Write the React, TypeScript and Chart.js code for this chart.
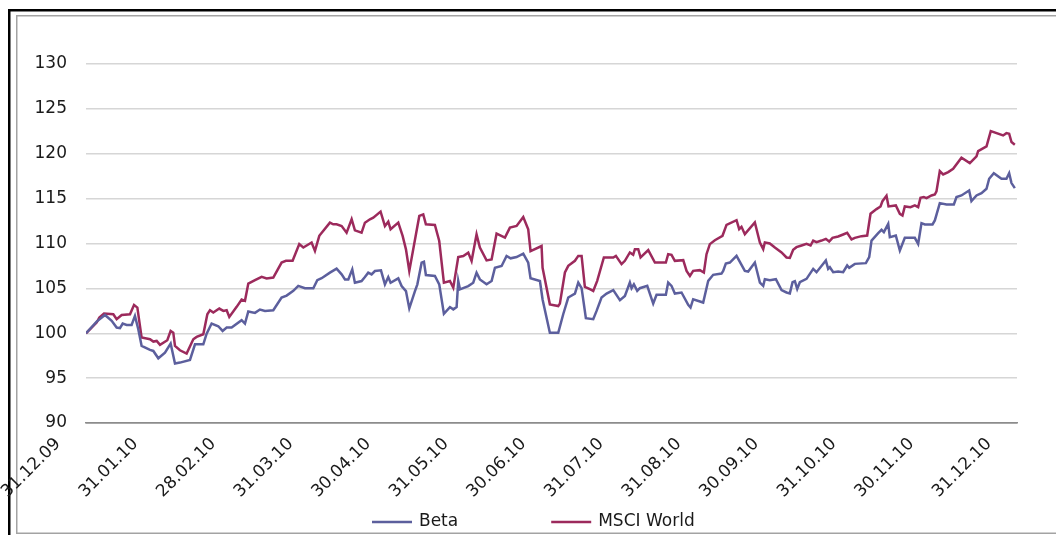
import React, { useEffect, useRef } from 'react';
import { Chart, registerables } from 'chart.js';

Chart.register(...registerables);

// X axis: months since 31.12.09 (labels at each month end)
const xTickLabels = [
  '31.12.09', '31.01.10', '28.02.10', '31.03.10', '30.04.10', '31.05.10', '30.06.10',
  '31.07.10', '31.08.10', '30.09.10', '31.10.10', '30.11.10', '31.12.10',
];

const seriesNames = ['Beta', 'MSCI World'];
const seriesColors = ['#5c5f9d', '#9c2a5c'];

const betaMonths = [
  0, 0.137, 0.245, 0.331, 0.395, 0.438, 0.473, 0.524, 0.588, 0.631, 0.674, 0.717, 0.825, 0.868, 0.932,
  1.018, 1.091, 1.147, 1.211, 1.34, 1.405, 1.512, 1.555, 1.619, 1.705, 1.761, 1.813, 1.877,
  2.006, 2.049, 2.092, 2.178, 2.242, 2.307, 2.414, 2.521, 2.586, 2.672, 2.736, 2.822, 2.93, 2.981,
  3.037, 3.144, 3.23, 3.295, 3.338, 3.381, 3.432, 3.466, 3.552, 3.595, 3.638, 3.681, 3.724, 3.802,
  3.853, 3.896, 3.926, 4.025, 4.068, 4.124, 4.167, 4.24, 4.271, 4.326, 4.356, 4.381, 4.497, 4.553,
  4.613, 4.691, 4.734, 4.777, 4.798, 4.82, 4.927, 4.991, 5.034, 5.077, 5.163, 5.228, 5.271, 5.357,
  5.421, 5.473, 5.55, 5.636, 5.7, 5.73, 5.851, 5.885, 5.979, 6.087, 6.151, 6.216, 6.302, 6.345,
  6.388, 6.443, 6.538, 6.581, 6.645, 6.71, 6.796, 6.882, 6.946, 7.01, 7.032, 7.062, 7.105, 7.139,
  7.234, 7.311, 7.354, 7.474, 7.504, 7.547, 7.59, 7.676, 7.762, 7.792, 7.826, 7.955, 8.02, 8.084,
  8.191, 8.213, 8.247, 8.299, 8.385, 8.492, 8.535, 8.621, 8.686, 8.729, 8.75, 8.814, 8.892, 8.965,
  9.029, 9.072, 9.107, 9.137, 9.167, 9.201, 9.287, 9.373, 9.416, 9.536, 9.566, 9.588, 9.631, 9.695,
  9.759, 9.811, 9.837, 9.91, 10.052, 10.095, 10.125, 10.211, 10.254, 10.284, 10.34, 10.361, 10.438,
  10.49, 10.554, 10.683, 10.726, 10.769, 10.812, 10.911, 10.941, 11.005, 11.091, 11.186, 11.22,
  11.284, 11.383, 11.413, 11.478, 11.542, 11.607, 11.641, 11.701, 11.8, 11.864, 11.899, 11.929, 11.972,
];
const betaValues = [
  100.0, 101.3, 102.04, 101.38, 100.63, 100.56, 101.08, 100.93, 100.93, 101.93, 100.45, 98.59, 98.14, 98.03, 97.21,
  97.84, 98.85, 96.62, 96.73, 97.03, 98.77, 98.77, 99.96, 101.08, 100.78, 100.26, 100.63, 100.63,
  101.45, 101.08, 102.42, 102.27, 102.64, 102.49, 102.57, 103.98, 104.2, 104.72, 105.28, 105.02, 105.02, 105.91,
  106.13, 106.75, 107.19, 106.56, 106.0, 106.0, 107.12, 105.63, 105.82, 106.26, 106.75, 106.56, 106.93, 107.01,
  105.45, 106.26, 105.63, 106.12, 105.26, 104.7, 102.77, 104.7, 105.45, 107.86, 107.97, 106.49, 106.38, 105.45,
  102.17, 102.92, 102.66, 102.92, 105.82, 104.89, 105.26, 105.63, 106.75, 106.0, 105.45, 105.82, 107.3, 107.49,
  108.61, 108.35, 108.49, 108.87, 107.86, 106.12, 105.82, 103.77, 100.06, 100.06, 102.12, 103.98, 104.42, 105.65,
  105.02, 101.67, 101.56, 102.49, 103.98, 104.42, 104.8, 103.68, 104.16, 105.65, 105.02, 105.46, 104.72, 105.02,
  105.28, 103.31, 104.28, 104.28, 105.65, 105.28, 104.42, 104.54, 103.16, 102.86, 103.79, 103.42, 105.84, 106.51,
  106.65, 106.95, 107.77, 107.88, 108.62, 106.95, 106.88, 107.88, 105.65, 105.28, 106.02, 105.91, 106.02, 104.8,
  104.54, 104.44, 105.69, 105.8, 104.94, 105.69, 106.06, 107.17, 106.8, 108.1, 107.17, 107.36, 106.8, 106.88,
  106.8, 107.55, 107.29, 107.73, 107.81, 108.48, 110.33, 111.15, 111.52, 111.26, 112.19, 110.71, 110.89,
  109.22, 110.63, 110.63, 109.96, 112.27, 112.12, 112.12, 112.57, 114.5, 114.35, 114.35, 115.17,
  115.35, 115.91, 114.72, 115.35, 115.61, 116.1, 117.21, 117.84, 117.21, 117.21, 117.84, 116.73, 116.17,
];

const msciMonths = [
  0, 0.137, 0.172, 0.232, 0.352, 0.395, 0.46, 0.567, 0.619, 0.662, 0.717, 0.825, 0.868, 0.911, 0.954,
  1.048, 1.091, 1.125, 1.147, 1.211, 1.297, 1.383, 1.426, 1.512, 1.564, 1.598, 1.641, 1.718, 1.77,
  1.813, 1.847, 1.942, 2.006, 2.049, 2.092, 2.178, 2.264, 2.328, 2.414, 2.521, 2.577, 2.663, 2.749,
  2.801, 2.908, 2.951, 3.007, 3.144, 3.187, 3.23, 3.295, 3.359, 3.424, 3.466, 3.552, 3.595, 3.66,
  3.703, 3.797, 3.853, 3.896, 3.926, 4.025, 4.081, 4.124, 4.167, 4.253, 4.296, 4.347, 4.381, 4.497,
  4.553, 4.613, 4.691, 4.734, 4.798, 4.863, 4.927, 4.97, 5.034, 5.077, 5.163, 5.228, 5.292, 5.4,
  5.464, 5.55, 5.636, 5.7, 5.73, 5.872, 5.885, 5.979, 6.087, 6.108, 6.173, 6.216, 6.302, 6.345, 6.388,
  6.43, 6.495, 6.538, 6.589, 6.675, 6.796, 6.83, 6.903, 6.946, 7.01, 7.053, 7.075, 7.118, 7.148,
  7.247, 7.333, 7.397, 7.474, 7.504, 7.547, 7.59, 7.698, 7.741, 7.784, 7.826, 7.912, 7.964, 7.998,
  8.041, 8.106, 8.204, 8.256, 8.385, 8.419, 8.449, 8.492, 8.621, 8.686, 8.729, 8.75, 8.814, 8.879,
  8.965, 9.029, 9.072, 9.115, 9.158, 9.223, 9.287, 9.339, 9.373, 9.416, 9.481, 9.536, 9.579, 9.622,
  9.695, 9.759, 9.811, 9.867, 9.91, 9.996, 10.069, 10.112, 10.189, 10.241, 10.266, 10.318, 10.344,
  10.438, 10.49, 10.524, 10.554, 10.627, 10.683, 10.726, 10.756, 10.799, 10.834, 10.898, 10.941,
  10.962, 11.005, 11.048, 11.113, 11.177, 11.284, 11.392, 11.478, 11.499, 11.607, 11.662, 11.821,
  11.864, 11.899, 11.929, 11.972,
];
const msciValues = [
  100.0, 101.19, 101.75, 102.19, 102.12, 101.56, 102.04, 102.12, 103.16, 102.86, 99.52, 99.33, 99.07, 99.14, 98.7,
  99.22, 100.26, 100.07, 98.59, 98.1, 97.73, 99.33, 99.59, 99.89, 102.12, 102.57, 102.31, 102.75, 102.49,
  102.57, 101.82, 102.94, 103.75, 103.61, 105.54, 105.91, 106.28, 106.1, 106.21, 107.88, 108.07, 108.07, 109.93,
  109.55, 110.11, 109.18, 110.86, 112.32, 112.14, 112.14, 111.95, 111.21, 112.7, 111.47, 111.21, 112.32, 112.7,
  112.88, 113.55, 111.95, 112.43, 111.58, 112.32, 110.84, 109.35, 106.93, 111.02, 113.07, 113.25, 112.14, 112.06,
  110.28, 105.63, 105.82, 105.07, 108.49, 108.61, 108.98, 108.05, 111.02, 109.54, 108.12, 108.23, 111.1, 110.65,
  111.77, 111.95, 112.96, 111.58, 109.16, 109.72, 107.3, 103.22, 103.03, 103.3, 106.77, 107.51, 108.07, 108.62, 108.62,
  105.17, 104.91, 104.72, 105.84, 108.44, 108.44, 108.62, 107.7, 108.07, 109.0, 108.74, 109.37, 109.37, 108.44,
  109.26, 107.88, 107.88, 107.88, 108.81, 108.74, 108.07, 108.14, 106.95, 106.39, 106.95, 107.03, 106.77, 108.81,
  109.93, 110.37, 110.86, 112.08, 112.6, 111.6, 111.86, 111.04, 112.34, 110.11, 109.37, 110.11, 110.0, 109.55,
  109.0, 108.44, 108.4, 109.29, 109.59, 109.78, 109.96, 109.78, 110.33, 110.15, 110.33, 110.52, 110.22, 110.63,
  110.78, 111.0, 111.19, 110.45, 110.63, 110.82, 110.89, 113.31, 113.83, 114.13, 114.72, 115.32, 114.13,
  114.24, 113.31, 113.12, 114.13, 114.05, 114.24, 114.05, 115.09, 115.17, 115.06, 115.35, 115.46,
  115.8, 118.07, 117.7, 117.96, 118.33, 119.55, 118.96, 119.7, 120.3, 120.82, 122.53, 122.04,
  122.3, 122.23, 121.3, 121.0,
];

const yMin = 90;
const yMax = 130;
const yStep = 5;

const W = 1056;
const H = 535;
const FONT_FAMILY = '"DejaVu Sans", Verdana, sans-serif';
const FONT_SIZE = 17;

const framePlugin = {
  id: 'frame',
  beforeDraw(chart: any) {
    const ctx = chart.ctx;
    ctx.save();
    ctx.fillStyle = '#ffffff';
    ctx.fillRect(0, 0, chart.width, chart.height);
    ctx.fillStyle = '#000000';
    ctx.fillRect(8, 9, chart.width, 2.5);
    ctx.fillRect(8, 9, 2.5, chart.height);
    ctx.fillStyle = '#a3a3a3';
    ctx.fillRect(16, 15, chart.width, 1.5);
    ctx.fillRect(16, 15, 1.5, chart.height - 17);
    ctx.fillRect(16, 532.5, chart.width, 1.5);
    ctx.restore();
  },
};

// Legend drawn from the datasets' labels and colours (line marker + text, widely spaced)
const lineLegendPlugin = {
  id: 'lineLegend',
  afterDraw(chart: any) {
    const ctx = chart.ctx;
    const startX = 372;
    const y = 522;
    const markerLen = 40;
    const textGap = 7;
    const itemGap = 93;
    ctx.save();
    ctx.font = `${FONT_SIZE}px ${FONT_FAMILY}`;
    ctx.textBaseline = 'middle';
    ctx.textAlign = 'left';
    let x = startX;
    chart.data.datasets.forEach((ds: any) => {
      ctx.strokeStyle = ds.borderColor;
      ctx.lineWidth = 2.5;
      ctx.beginPath();
      ctx.moveTo(x, y);
      ctx.lineTo(x + markerLen, y);
      ctx.stroke();
      ctx.fillStyle = '#1a1a1a';
      ctx.fillText(ds.label, x + markerLen + textGap, y);
      x += markerLen + textGap + ctx.measureText(ds.label).width + itemGap;
    });
    ctx.restore();
  },
};

export default function App() {
  const canvasRef = useRef<HTMLCanvasElement | null>(null);

  useEffect(() => {
    if (!canvasRef.current) return;
    const font = { family: FONT_FAMILY, size: FONT_SIZE };
    const chart = new Chart(canvasRef.current, {
      type: 'line',
      data: {
        datasets: [
          {
            label: seriesNames[0],
            data: betaMonths.map((m, i) => ({ x: m, y: betaValues[i] })),
            borderColor: seriesColors[0],
            backgroundColor: seriesColors[0],
            borderWidth: 2.5,
            pointRadius: 0,
            tension: 0,
          },
          {
            label: seriesNames[1],
            data: msciMonths.map((m, i) => ({ x: m, y: msciValues[i] })),
            borderColor: seriesColors[1],
            backgroundColor: seriesColors[1],
            borderWidth: 2.5,
            pointRadius: 0,
            tension: 0,
          },
        ],
      },
      options: {
        responsive: false,
        animation: false,
        devicePixelRatio: 1,
        layout: { padding: { left: 0, top: 64, right: 39, bottom: 0 } },
        scales: {
          x: {
            type: 'linear',
            min: 0,
            max: 12,
            grid: { display: false, drawTicks: false },
            border: { display: true, color: '#8c8c8c', width: 1.5 },
            ticks: {
              stepSize: 1,
              autoSkip: false,
              minRotation: 45,
              maxRotation: 45,
              labelOffset: -28,
              padding: 11,
              color: '#1a1a1a',
              font,
              callback: (v: any) => xTickLabels[Math.round(Number(v))] ?? '',
            },
            afterFit: (scale: any) => {
              scale.height = 112;
            },
          },
          y: {
            min: yMin,
            max: yMax,
            grid: {
              drawTicks: false,
              lineWidth: 1.5,
              color: (c: any) => (c.tick && c.tick.value === yMin ? '#8c8c8c' : '#d6d6d6'),
            },
            border: { display: false },
            ticks: { stepSize: yStep, padding: 19, color: '#1a1a1a', font },
            afterFit: (scale: any) => {
              scale.width = 86;
            },
          },
        },
        plugins: {
          legend: { display: false },
          tooltip: { enabled: false },
        },
      },
      plugins: [framePlugin, lineLegendPlugin],
    } as any);
    return () => chart.destroy();
  }, []);

  return (
    <div style={{ position: 'fixed', left: 0, top: 0, width: W, height: H, background: '#fff' }}>
      <canvas ref={canvasRef} width={W} height={H} style={{ width: W, height: H, display: 'block' }} />
    </div>
  );
}
